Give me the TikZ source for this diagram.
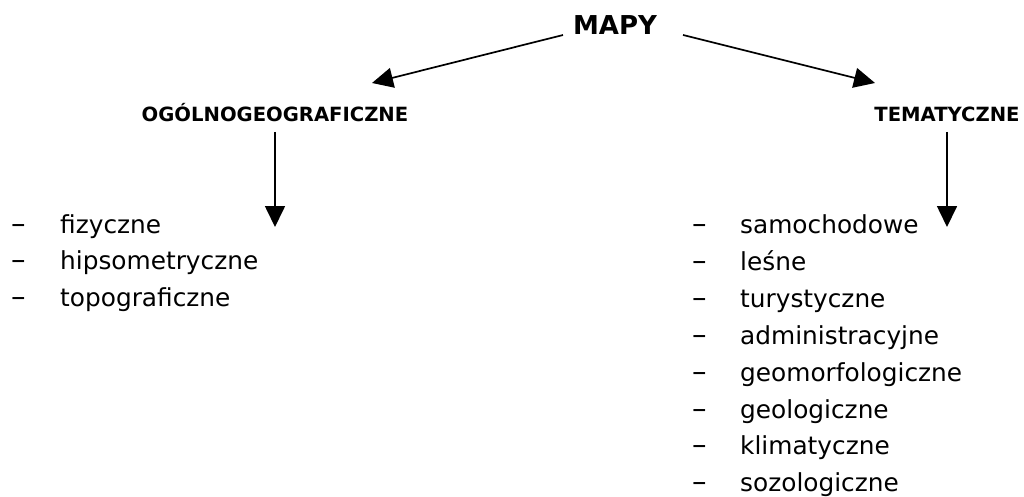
\documentclass[tikz,border=0pt]{standalone}
\usepackage{fontspec}
\setmainfont{DejaVu Sans}
\usetikzlibrary{arrows.meta}
\begin{document}
\begin{tikzpicture}[x=1pt,y=-1pt,
  arr/.style={line width=1.7pt, -{Triangle[length=21pt,width=20pt]}},
  item/.style={anchor=base west, inner sep=0pt, font=\fontsize{24.8}{28}\selectfont},
  dashitem/.style={anchor=base west, inner sep=0pt, font=\fontsize{29}{30}\selectfont},
  head/.style={anchor=base, inner sep=0pt, font=\fontsize{19.6}{22}\selectfont\bfseries},
  top/.style={anchor=base, inner sep=0pt, font=\fontsize{26}{28}\selectfont\bfseries}]
\useasboundingbox (0,0) rectangle (1024,497);

\node[top] (mapy) at (615,35) {MAPY};
\node[head] (ogol) at (275,122) {OGÓLNOGEOGRAFICZNE};
\node[head] (tema) at (947,122) {TEMATYCZNE};

\coordinate (ml) at (563,35);
\coordinate (mr) at (683,35);
\coordinate (tl) at (372,83);
\coordinate (tr) at (875,83);
\coordinate (vl0) at (275,132);
\coordinate (vl1) at (275,227);
\coordinate (vr0) at (947,132);
\coordinate (vr1) at (947,227);

\draw[arr] (ml) -- (tl);
\draw[arr] (mr) -- (tr);
\draw[arr] (vl0) -- (vl1);
\draw[arr] (vr0) -- (vr1);

\foreach \t [count=\i] in {fizyczne,hipsometryczne,topograficzne}{
  \node[dashitem] (dl\i) at (11,{233+36.9*(\i-1)}) {–};
  \node[item] (l\i) at (60,{233+36.9*(\i-1)}) {\t};
}
\foreach \t [count=\i] in {samochodowe,leśne,turystyczne,administracyjne,geomorfologiczne,geologiczne,klimatyczne,sozologiczne}{
  \node[dashitem] (dr\i) at (692,{233.5+36.9*(\i-1)}) {–};
  \node[item] (r\i) at (740,{233.5+36.9*(\i-1)}) {\t};
}
\end{tikzpicture}
\end{document}
